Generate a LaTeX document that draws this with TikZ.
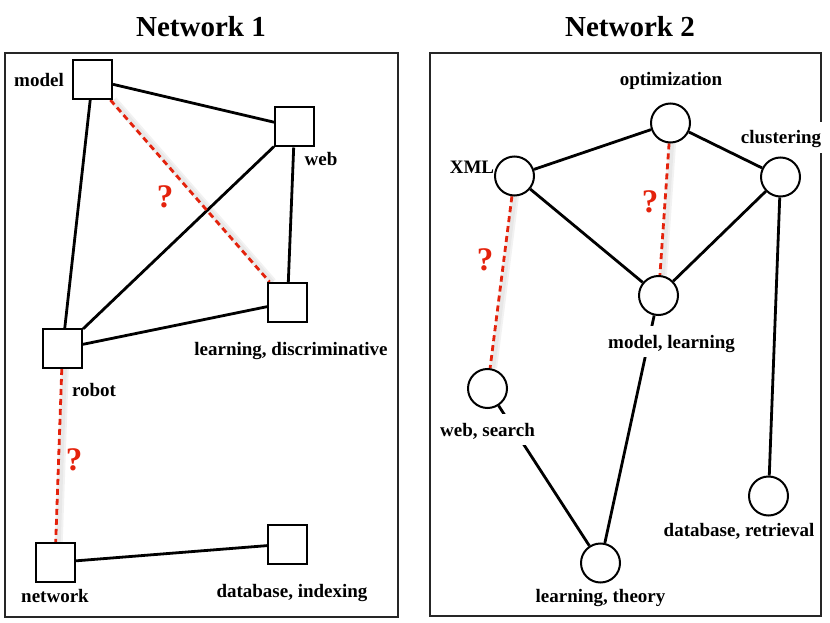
\documentclass[tikz,border=0pt]{standalone}
\usepackage{fontspec}
\setmainfont{Liberation Serif}
\usetikzlibrary{positioning}
\definecolor{qred}{RGB}{228,34,12}
\pgfdeclarelayer{bg}
\pgfsetlayers{bg,main}

\begin{document}
\begin{tikzpicture}[
  x=1pt, y=-1pt,
  term/.style={rectangle, draw, line width=2pt, fill=white, minimum size=39pt, inner sep=0pt},
  topic/.style={circle, draw, line width=2pt, fill=white, minimum size=39pt, inner sep=0pt},
  lbl/.style={font=\fontsize{19}{22}\selectfont\bfseries, fill=white, inner xsep=1pt, inner ysep=5pt, text height=17pt, text depth=4pt, anchor=base},
  ttl/.style={font=\fontsize{29}{34}\selectfont\bfseries, anchor=base},
  qmark/.style={font=\fontsize{33}{36}\selectfont\bfseries, text=qred, anchor=base, inner sep=0pt},
  frame/.style={draw=black!85, line width=2pt},
  link/.style={line width=2.8pt},
  guess/.style={qred, line width=2.8pt, dash pattern=on 6pt off 4pt},
  glow/.style={black!5, line width=8pt, transform canvas={xshift=3pt}},
  glowcore/.style={black!9, line width=4pt, transform canvas={xshift=3pt}},
]
\useasboundingbox (0,0) rectangle (830,623);

\node[ttl] (title1) at (201,37) {Network 1};
\node[ttl] (title2) at (630,37) {Network 2};

\node[term] (model) at (92.5,79.5) {};
\node[term] (web) at (294.5,127) {};
\node[term] (disc) at (287.5,302.5) {};
\node[term] (robot) at (62.5,348.5) {};
\node[term] (network) at (55,562.5) {};
\node[term] (index) at (287.5,544) {};

\node[topic] (optim) at (670.5,123) {};
\node[topic] (xml) at (514.5,176) {};
\node[topic] (clust) at (780.5,177) {};
\node[topic] (modlearn) at (658.5,295.5) {};
\node[topic] (websearch) at (487.5,388.5) {};
\node[topic] (theory) at (600.5,563) {};
\node[topic] (retrieval) at (768.5,496) {};

\begin{pgfonlayer}{bg}
\draw[frame] (5,53) rectangle (398,617);
\draw[frame] (430,53) rectangle (821,616);

\draw[glow] (model) -- (disc);
\draw[glowcore] (model) -- (disc);
\draw[glow] (robot) -- (network);
\draw[glowcore] (robot) -- (network);
\draw[glow] (optim) -- (modlearn);
\draw[glowcore] (optim) -- (modlearn);
\draw[glow] (xml) -- (websearch);
\draw[glowcore] (xml) -- (websearch);

\draw[link] (model) -- (web);
\draw[link] (model) -- (robot);
\draw[link] (web) -- (robot);
\draw[link] (web) -- (disc);
\draw[link] (robot) -- (disc);
\draw[link] (network) -- (index);

\draw[link] (xml) -- (optim);
\draw[link] (optim) -- (clust);
\draw[link] (xml) -- (modlearn);
\draw[link] (clust) -- (modlearn);
\draw[link] (clust) -- (retrieval);
\draw[link] (modlearn) -- (theory);
\draw[link] (websearch) -- (theory);

\draw[guess] (model) -- (disc);
\draw[guess] (robot) -- (network);
\draw[guess] (optim) -- (modlearn);
\draw[guess] (xml) -- (websearch);

\node[lbl] (modelL) at (39,87) {model};
\node[lbl] (webL) at (321,165) {web};
\node[lbl] (discL) at (291,355) {learning, discriminative};
\node[lbl] (robotL) at (94,396) {robot};
\node[lbl] (networkL) at (55,602) {network};
\node[lbl] (indexL) at (292,597) {database, indexing};

\node[lbl] (optimL) at (671,86) {optimization};
\node[lbl] (xmlL) at (472,174) {XML};
\node[lbl] (clustL) at (781,144) {clustering};
\node[lbl] (modlearnL) at (671.5,348) {model, learning};
\node[lbl] (websearchL) at (487.5,436) {web, search};
\node[lbl] (theoryL) at (600.5,602) {learning, theory};
\node[lbl] (retrievalL) at (739,536) {database, retrieval};
\end{pgfonlayer}

\node[qmark] (q1) at (165,207) {?};
\node[qmark] (q2) at (74,470) {?};
\node[qmark] (q3) at (650,212) {?};
\node[qmark] (q4) at (485,270) {?};
\end{tikzpicture}
\end{document}
